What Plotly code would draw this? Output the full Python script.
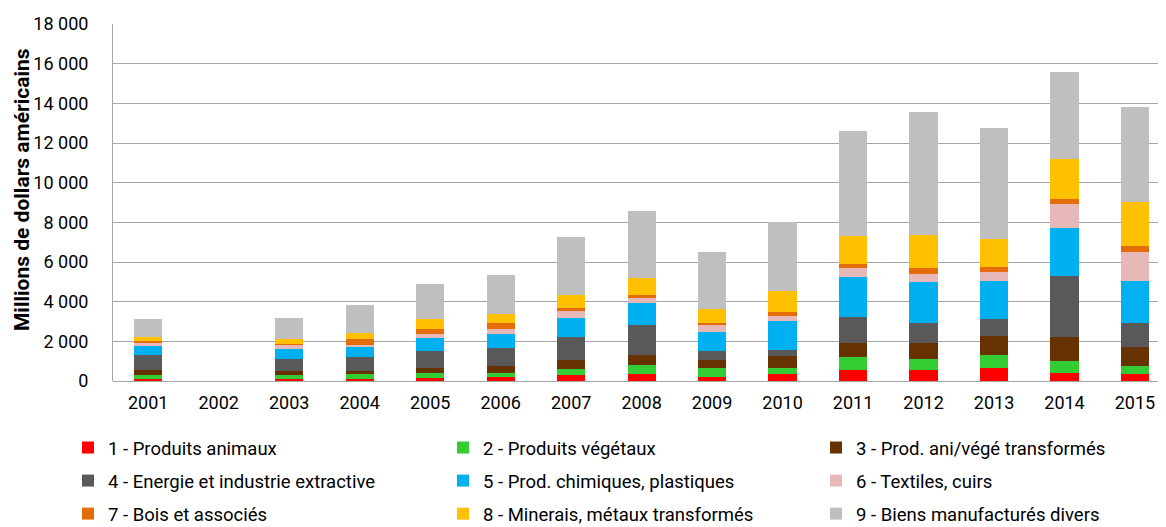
import plotly.graph_objects as go

years = ['2001', '2002', '2003', '2004', '2005', '2006', '2007', '2008',
         '2009', '2010', '2011', '2012', '2013', '2014', '2015']

produits_animaux = [80, 0, 80, 100, 150, 220, 285, 350, 220, 350, 550, 540, 670, 420, 350]
produits_vegetaux = [200, 0, 200, 250, 270, 200, 300, 455, 455, 320, 640, 590, 650, 570, 385]
prod_transformes = [250, 0, 200, 135, 250, 320, 470, 520, 385, 570, 750, 770, 970, 1240, 970]
energie = [790, 0, 640, 705, 840, 910, 1175, 1480, 455, 335, 1310, 1040, 820, 3080, 1220]
chimiques = [440, 0, 500, 540, 655, 705, 960, 1110, 975, 1430, 1990, 2060, 1940, 2400, 2130]
textiles = [200, 0, 200, 100, 185, 250, 320, 250, 320, 270, 450, 385, 450, 1220, 1470]
bois = [80, 0, 70, 270, 270, 335, 150, 185, 135, 185, 200, 335, 250, 270, 270]
minerais = [185, 0, 250, 335, 520, 455, 690, 855, 705, 1090, 1420, 1660, 1410, 1980, 2245]
biens_divers = [925, 0, 1060, 1410, 1730, 1935, 2910, 3360, 2860, 3460, 5280, 6200, 5610, 4390, 4775]

# name, values, colour, legend column
series = [
    ('1 - Produits animaux', produits_animaux, '#FF0000', 'legend'),
    ('2 - Produits végétaux', produits_vegetaux, '#33CC33', 'legend2'),
    ('3 - Prod. ani/végé transformés', prod_transformes, '#663300', 'legend3'),
    ('4 - Energie et industrie extractive', energie, '#595959', 'legend'),
    ('5 - Prod. chimiques, plastiques', chimiques, '#00B0F0', 'legend2'),
    ('6 - Textiles, cuirs', textiles, '#E6B9B8', 'legend3'),
    ('7 - Bois et associés', bois, '#E46C0A', 'legend'),
    ('8 - Minerais, métaux transformés', minerais, '#FFC000', 'legend2'),
    ('9 - Biens manufacturés divers', biens_divers, '#BFBFBF', 'legend3'),
]

FONT = 'Roboto, sans-serif'
GRID = '#A6A6A6'
W, H = 1158, 519  # page body has an 8px margin

fig = go.Figure()
for i, (name, vals, color, leg) in enumerate(series):
    fig.add_trace(go.Bar(
        name=name,
        x=years,
        y=vals,
        legend=leg,
        legendgroup=f'g{i}',
        marker=dict(color=color, line=dict(width=0)),
    ))


def legend_box(x_px):
    return dict(
        orientation='v',
        xref='container', yref='container',
        x=x_px / W, y=1 - 421 / H,
        xanchor='left', yanchor='top',
        tracegroupgap=6,
        itemwidth=30,
        bgcolor='rgba(0,0,0,0)',
        font=dict(family=FONT, size=18.5, color='#000000'),
    )


fig.update_layout(
    barmode='stack',
    bargap=0.6,
    width=W,
    height=H,
    margin=dict(l=105, r=0, t=16, b=146, autoexpand=False),
    paper_bgcolor='white',
    plot_bgcolor='white',
    separators=', ',
    font=dict(family=FONT, size=18, color='#000000'),
    legend=legend_box(60),
    legend2=legend_box(435),
    legend3=legend_box(808),
    xaxis=dict(
        type='category',
        range=[-0.5, 14.44],
        automargin=False,
        showgrid=False,
        showline=False,
        ticks='outside',
        ticklen=5,
        tickcolor='rgba(0,0,0,0)',
        tickfont=dict(family=FONT, size=18),
    ),
    yaxis=dict(
        range=[0, 18000],
        dtick=2000,
        tickformat=',d',
        automargin=False,
        showgrid=True,
        gridcolor=GRID,
        gridwidth=1,
        showline=True,
        linecolor=GRID,
        linewidth=1,
        zeroline=True,
        zerolinecolor=GRID,
        zerolinewidth=1,
        ticks='outside',
        ticklen=20,
        tickcolor='rgba(0,0,0,0)',
        tickfont=dict(family=FONT, size=18),
    ),
    annotations=[dict(
        text='<b>Millions de dollars américains</b>',
        xref='paper', yref='paper',
        x=-0.0864, y=0.535,
        xanchor='center', yanchor='middle',
        textangle=-90,
        showarrow=False,
        font=dict(family=FONT, size=21, color='#000000'),
    )],
)

fig.write_html('out.html')
